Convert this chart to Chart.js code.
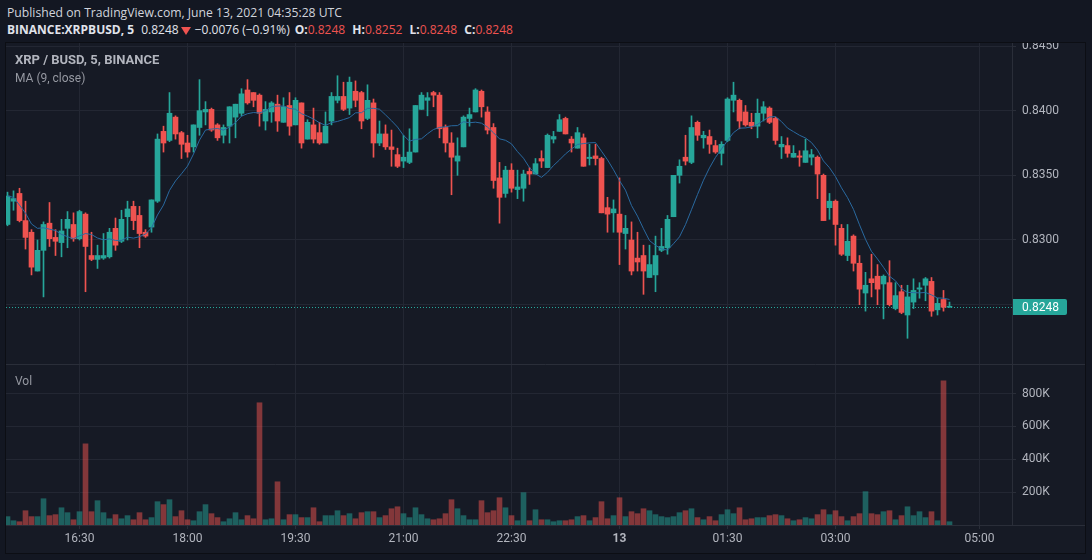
<!DOCTYPE html>
<html lang="en">
<head>
<meta charset="utf-8">
<title>XRPBUSD, 5</title>
<script src="https://cdn.jsdelivr.net/npm/chart.js@4.4.0/dist/chart.umd.min.js"></script>
<style>
  html, body { margin: 0; padding: 0; width: 1092px; height: 560px; overflow: hidden; background: #131722; font-family: Roboto, sans-serif; }
  .head { position: absolute; left: 7px; font-family: 'Open Sans', sans-serif; font-size: 12px; line-height: 16px; color: #d1d4dc; white-space: nowrap; }
  #published { top: 5px; font-size: 12.2px; }
  #symbol { top: 22px; color: #e0e3eb; }
  #symbol b { font-weight: bold; }
  #symbol b.sym { margin-right: 4px; }
  #symbol b.grp { margin-left: 4px; }
  #symbol b.first { margin-left: 5px; }
  .red { color: #ef5350; }
  .tri { display: inline-block; width: 0; height: 0; border-left: 5px solid transparent; border-right: 5px solid transparent; border-top: 8px solid #ef5350; margin: 0 4px 0 2px; vertical-align: -1px; }
  #frame { position: absolute; left: 5px; top: 42px; width: 1079px; height: 510px; border: 1px solid #0c0e14; background: #161a25; }
  #chart { display: block; }
  .legend { position: absolute; left: 15px; color: #9598a1; font-size: 12px; line-height: 14px; white-space: nowrap; }
  #title { top: 53px; font-weight: bold; font-size: 13px; color: #b2b5be; }
  #maLabel { top: 71px; }
  #volLabel { top: 374px; }
</style>
</head>
<body>
<div class="head" id="published">Published on TradingView.com, June 13, 2021 04:35:28 UTC</div>
<div class="head" id="symbol"><b class="sym">BINANCE:XRPBUSD, 5</b> 0.8248<span class="tri"></span>−0.0076 (−0.91%)<b class="first">O:</b><span class="red">0.8248</span> <b class="grp">H:</b><span class="red">0.8252</span> <b class="grp">L:</b><span class="red">0.8248</span> <b class="grp">C:</b><span class="red">0.8248</span></div>
<div id="frame"><canvas id="chart" width="1079" height="510"></canvas></div>
<div class="legend" id="title">XRP / BUSD, 5, BINANCE</div>
<div class="legend" id="maLabel">MA (9, close)</div>
<div class="legend" id="volLabel">Vol</div>

<script>
// --- Date (lumanari de 5 minute, prima la 15:30) ---
const startTime = '15:30';

const opens = [
  0.8312, 0.8330, 0.8336, 0.8315, 0.8306, 0.8276, 0.8292, 0.8313, 0.8302, 0.8298,
  0.8309, 0.8312, 0.8301, 0.8320, 0.8288, 0.8285, 0.8286, 0.8287, 0.8309, 0.8299,
  0.8318, 0.8326, 0.8319, 0.8306, 0.8310, 0.8330, 0.8384, 0.8377, 0.8395, 0.8383,
  0.8375, 0.8372, 0.8387, 0.8399, 0.8401, 0.8389, 0.8381, 0.8388, 0.8395, 0.8398,
  0.8416, 0.8414, 0.8412, 0.8392, 0.8399, 0.8405, 0.8391, 0.8404, 0.8389, 0.8406,
  0.8378, 0.8389, 0.8383, 0.8375, 0.8392, 0.8408, 0.8411, 0.8402, 0.8415, 0.8414,
  0.8394, 0.8406, 0.8375, 0.8382, 0.8372, 0.8366, 0.8361, 0.8360, 0.8368, 0.8401,
  0.8408, 0.8414, 0.8412, 0.8387, 0.8375, 0.8361, 0.8372, 0.8394, 0.8399, 0.8415,
  0.8399, 0.8387, 0.8348, 0.8336, 0.8354, 0.8339, 0.8340, 0.8353, 0.8351, 0.8363,
  0.8356, 0.8378, 0.8384, 0.8394, 0.8378, 0.8371, 0.8379, 0.8363, 0.8365, 0.8363,
  0.8325, 0.8321, 0.8320, 0.8305, 0.8300, 0.8286, 0.8288, 0.8271, 0.8273, 0.8292,
  0.8294, 0.8318, 0.8350, 0.8364, 0.8360, 0.8391, 0.8379, 0.8380, 0.8373, 0.8367,
  0.8377, 0.8408, 0.8408, 0.8399, 0.8391, 0.8388, 0.8398, 0.8402, 0.8394, 0.8372,
  0.8373, 0.8364, 0.8365, 0.8360, 0.8364, 0.8364, 0.8350, 0.8325, 0.8330, 0.8309,
  0.8288, 0.8303, 0.8282, 0.8259, 0.8270, 0.8272, 0.8266, 0.8267, 0.8247, 0.8260,
  0.8242, 0.8252, 0.8262, 0.8265, 0.8268, 0.8246, 0.8254, 0.8248
];
const highs = [
  0.8337, 0.8338, 0.8340, 0.8330, 0.8308, 0.8300, 0.8314, 0.8329, 0.8308, 0.8316,
  0.8322, 0.8321, 0.8323, 0.8321, 0.8306, 0.8296, 0.8305, 0.8309, 0.8317, 0.8323,
  0.8330, 0.8330, 0.8326, 0.8308, 0.8331, 0.8382, 0.8388, 0.8414, 0.8396, 0.8384,
  0.8381, 0.8389, 0.8424, 0.8407, 0.8402, 0.8390, 0.8389, 0.8403, 0.8405, 0.8417,
  0.8424, 0.8414, 0.8413, 0.8407, 0.8407, 0.8412, 0.8410, 0.8414, 0.8410, 0.8406,
  0.8393, 0.8402, 0.8391, 0.8399, 0.8414, 0.8427, 0.8422, 0.8426, 0.8423, 0.8415,
  0.8420, 0.8409, 0.8392, 0.8389, 0.8385, 0.8371, 0.8381, 0.8386, 0.8404, 0.8414,
  0.8414, 0.8415, 0.8414, 0.8389, 0.8383, 0.8379, 0.8396, 0.8402, 0.8417, 0.8416,
  0.8403, 0.8390, 0.8360, 0.8357, 0.8359, 0.8354, 0.8354, 0.8356, 0.8363, 0.8369,
  0.8382, 0.8384, 0.8397, 0.8395, 0.8380, 0.8387, 0.8382, 0.8374, 0.8374, 0.8364,
  0.8333, 0.8331, 0.8348, 0.8319, 0.8314, 0.8306, 0.8296, 0.8296, 0.8303, 0.8309,
  0.8319, 0.8350, 0.8362, 0.8381, 0.8396, 0.8392, 0.8384, 0.8385, 0.8377, 0.8376,
  0.8410, 0.8422, 0.8409, 0.8404, 0.8398, 0.8409, 0.8407, 0.8403, 0.8395, 0.8380,
  0.8379, 0.8373, 0.8369, 0.8378, 0.8370, 0.8365, 0.8351, 0.8336, 0.8331, 0.8312,
  0.8312, 0.8304, 0.8288, 0.8275, 0.8289, 0.8281, 0.8273, 0.8284, 0.8267, 0.8265,
  0.8265, 0.8270, 0.8267, 0.8271, 0.8271, 0.8255, 0.8261, 0.8252
];
const lows = [
  0.8311, 0.8323, 0.8314, 0.8293, 0.8273, 0.8276, 0.8256, 0.8295, 0.8288, 0.8287,
  0.8294, 0.8299, 0.8300, 0.8260, 0.8284, 0.8278, 0.8285, 0.8286, 0.8292, 0.8298,
  0.8300, 0.8308, 0.8294, 0.8302, 0.8306, 0.8329, 0.8368, 0.8376, 0.8378, 0.8363,
  0.8364, 0.8368, 0.8381, 0.8389, 0.8384, 0.8377, 0.8375, 0.8375, 0.8379, 0.8396,
  0.8405, 0.8403, 0.8388, 0.8385, 0.8391, 0.8384, 0.8391, 0.8381, 0.8389, 0.8371,
  0.8378, 0.8375, 0.8374, 0.8375, 0.8389, 0.8406, 0.8400, 0.8397, 0.8403, 0.8386,
  0.8393, 0.8364, 0.8373, 0.8370, 0.8357, 0.8356, 0.8356, 0.8359, 0.8368, 0.8401,
  0.8396, 0.8403, 0.8379, 0.8368, 0.8335, 0.8350, 0.8372, 0.8388, 0.8399, 0.8395,
  0.8382, 0.8340, 0.8313, 0.8333, 0.8337, 0.8332, 0.8330, 0.8343, 0.8351, 0.8356,
  0.8356, 0.8375, 0.8384, 0.8382, 0.8368, 0.8371, 0.8357, 0.8358, 0.8358, 0.8321,
  0.8306, 0.8306, 0.8281, 0.8293, 0.8273, 0.8276, 0.8258, 0.8271, 0.8260, 0.8291,
  0.8289, 0.8318, 0.8344, 0.8358, 0.8359, 0.8377, 0.8371, 0.8367, 0.8367, 0.8358,
  0.8376, 0.8399, 0.8386, 0.8388, 0.8386, 0.8379, 0.8392, 0.8390, 0.8374, 0.8363,
  0.8364, 0.8364, 0.8357, 0.8360, 0.8358, 0.8332, 0.8315, 0.8316, 0.8296, 0.8288,
  0.8284, 0.8276, 0.8250, 0.8245, 0.8256, 0.8250, 0.8239, 0.8249, 0.8246, 0.8243,
  0.8224, 0.8247, 0.8255, 0.8253, 0.8241, 0.8242, 0.8245, 0.8248
];
const closes = [
  0.8334, 0.8332, 0.8315, 0.8302, 0.8279, 0.8292, 0.8312, 0.8301, 0.8299, 0.8307,
  0.8316, 0.8301, 0.8322, 0.8295, 0.8285, 0.8288, 0.8288, 0.8306, 0.8296, 0.8316,
  0.8324, 0.8315, 0.8305, 0.8303, 0.8331, 0.8378, 0.8375, 0.8398, 0.8382, 0.8374,
  0.8368, 0.8389, 0.8400, 0.8401, 0.8385, 0.8379, 0.8387, 0.8403, 0.8405, 0.8413,
  0.8406, 0.8408, 0.8398, 0.8401, 0.8406, 0.8392, 0.8403, 0.8388, 0.8408, 0.8375,
  0.8391, 0.8378, 0.8375, 0.8388, 0.8411, 0.8411, 0.8401, 0.8422, 0.8408, 0.8392,
  0.8408, 0.8375, 0.8382, 0.8372, 0.8370, 0.8357, 0.8364, 0.8368, 0.8404, 0.8412,
  0.8410, 0.8412, 0.8386, 0.8375, 0.8364, 0.8365, 0.8395, 0.8397, 0.8416, 0.8403,
  0.8385, 0.8346, 0.8333, 0.8354, 0.8340, 0.8341, 0.8351, 0.8351, 0.8359, 0.8361,
  0.8381, 0.8380, 0.8393, 0.8382, 0.8375, 0.8383, 0.8357, 0.8364, 0.8363, 0.8321,
  0.8320, 0.8324, 0.8306, 0.8309, 0.8276, 0.8283, 0.8276, 0.8281, 0.8288, 0.8295,
  0.8316, 0.8350, 0.8357, 0.8361, 0.8387, 0.8381, 0.8381, 0.8374, 0.8368, 0.8374,
  0.8409, 0.8412, 0.8392, 0.8389, 0.8388, 0.8398, 0.8403, 0.8391, 0.8377, 0.8374,
  0.8367, 0.8367, 0.8364, 0.8369, 0.8366, 0.8351, 0.8315, 0.8330, 0.8312, 0.8289,
  0.8299, 0.8282, 0.8262, 0.8265, 0.8267, 0.8262, 0.8272, 0.8250, 0.8257, 0.8244,
  0.8256, 0.8261, 0.8263, 0.8270, 0.8245, 0.8251, 0.8248, 0.8248
];
// volum, in mii
const volumes = [
  51, 26, 20, 87, 51, 51, 160, 57, 63, 105,
  75, 32, 81, 494, 81, 148, 75, 38, 63, 38,
  57, 32, 75, 32, 45, 142, 124, 154, 51, 87,
  32, 26, 81, 124, 69, 45, 20, 38, 75, 32,
  57, 38, 744, 32, 38, 263, 32, 63, 63, 45,
  45, 105, 20, 57, 57, 87, 57, 69, 38, 75,
  81, 81, 45, 57, 99, 111, 69, 45, 105, 63,
  38, 32, 38, 69, 154, 99, 57, 32, 32, 148,
  75, 87, 166, 105, 57, 26, 197, 26, 93, 32,
  32, 20, 26, 26, 32, 51, 57, 26, 45, 142,
  38, 57, 166, 51, 81, 69, 99, 87, 63, 51,
  45, 51, 75, 87, 99, 45, 32, 51, 26, 63,
  93, 69, 105, 32, 38, 45, 45, 57, 63, 57,
  38, 26, 32, 45, 38, 63, 93, 63, 87, 51,
  26, 51, 69, 203, 69, 63, 81, 87, 32, 57,
  111, 57, 81, 45, 81, 26, 877, 20
];

const timeTicks = ['16:30', '18:00', '19:30', '21:00', '22:30', '00:00', '01:30', '03:00', '05:00'];
const timeTickLabels = ['16:30', '18:00', '19:30', '21:00', '22:30', '13', '01:30', '03:00', '05:00'];
const priceTicks = [0.8250, 0.8300, 0.8350, 0.8400, 0.8450];
const volumeTicks = [200000, 400000, 600000, 800000];
const lastPrice = 0.8248;
const maPeriod = 9;

// --- Culori ---
const UP = '#26a69a';
const DOWN = '#ef5350';
const UP_VOL = 'rgba(38, 166, 154, 0.5)';
const DOWN_VOL = 'rgba(239, 83, 80, 0.5)';
const GRID = '#232733';
const BORDER = '#2a2e39';
const TEXT = '#b2b5be';

// index lumanare pentru o ora "hh:mm"
function indexOfTime(t) {
    const toMin = s => parseInt(s.slice(0, 2)) * 60 + parseInt(s.slice(3, 5));
    return ((toMin(t) - toMin(startTime) + 1440) % 1440) / 5;
}

const isUp = closes.map((c, i) => c >= opens[i]);
const candleColors = isUp.map(u => u ? UP : DOWN);
const volColors = isUp.map(u => u ? UP_VOL : DOWN_VOL);

// media mobila simpla pe inchideri (MA 9)
const maValues = closes.map((c, i) => {
    const from = Math.max(0, i - maPeriod + 1);
    const slice = closes.slice(from, i + 1);
    return slice.reduce((a, b) => a + b, 0) / slice.length;
});

const tickLabelByIndex = {};
timeTicks.forEach((t, k) => { tickLabelByIndex[indexOfTime(t)] = timeTickLabels[k]; });

// linia pretului curent + eticheta pe axa
const lastPricePlugin = {
    id: 'lastPrice',
    beforeDatasetsDraw(chart) {
        const { ctx, chartArea } = chart;
        const y = Math.round(chart.scales.y.getPixelForValue(lastPrice)) + 0.5;
        ctx.save();
        ctx.strokeStyle = UP;
        ctx.lineWidth = 1;
        ctx.setLineDash([1, 2]);
        ctx.beginPath();
        ctx.moveTo(chartArea.left, y);
        ctx.lineTo(chartArea.right, y);
        ctx.stroke();
        ctx.restore();
    },
    afterDraw(chart) {
        const { ctx, chartArea, width } = chart;
        const yVol = chart.scales.yVol;
        ctx.save();
        // separator intre panouri si marginea axei x
        ctx.strokeStyle = BORDER;
        ctx.lineWidth = 1;
        ctx.beginPath();
        ctx.moveTo(0, Math.round(yVol.top) + 0.5);
        ctx.lineTo(width, Math.round(yVol.top) + 0.5);
        ctx.moveTo(0, Math.round(chartArea.bottom) + 0.5);
        ctx.lineTo(width, Math.round(chartArea.bottom) + 0.5);
        ctx.stroke();

        const y = Math.round(chart.scales.y.getPixelForValue(lastPrice));
        const x = chartArea.right + 1;
        ctx.fillStyle = UP;
        ctx.beginPath();
        ctx.roundRect(x, y - 8, 54, 16, [0, 2, 2, 0]);
        ctx.fill();
        ctx.fillStyle = '#ffffff';
        ctx.font = '12px Roboto';
        ctx.textBaseline = 'middle';
        ctx.fillText(lastPrice.toFixed(4), chartArea.right + 10, y + 0.5);
        ctx.restore();
    }
};

const candleData = closes.map((c, i) => ({ x: i, y: [opens[i], c] }));
const wickData = closes.map((c, i) => ({ x: i, y: [lows[i], highs[i]] }));
const volData = volumes.map((v, i) => ({ x: i, y: v * 1000 }));
const maData = maValues.map((v, i) => ({ x: i, y: v }));

new Chart(document.getElementById('chart'), {
    type: 'bar',
    data: {
        datasets: [
            {
                type: 'line',
                data: maData,
                yAxisID: 'y',
                borderColor: '#2a6aa0',
                borderWidth: 1,
                pointRadius: 0,
                tension: 0,
                order: 0
            },
            {
                data: candleData,
                yAxisID: 'y',
                backgroundColor: candleColors,
                barThickness: 5,
                minBarLength: 1,
                grouped: false,
                order: 1
            },
            {
                data: wickData,
                yAxisID: 'y',
                backgroundColor: candleColors,
                barThickness: 1,
                grouped: false,
                order: 2
            },
            {
                data: volData,
                yAxisID: 'yVol',
                backgroundColor: volColors,
                barThickness: 5,
                grouped: false,
                order: 3
            }
        ]
    },
    options: {
        responsive: false,
        animation: false,
        events: [],
        layout: { padding: 0 },
        plugins: { legend: { display: false }, tooltip: { enabled: false } },
        scales: {
            x: {
                type: 'linear',
                min: -0.25,
                max: 167.4167,
                offset: false,
                grid: { color: GRID, offset: false, tickLength: 4, tickColor: BORDER },
                border: { display: true, color: BORDER },
                afterBuildTicks: scale => {
                    scale.ticks = timeTicks.map(t => ({ value: indexOfTime(t) }));
                },
                afterFit: scale => {
                    scale.height = 28;
                    scale.paddingLeft = 0;
                    scale.paddingRight = 0;
                },
                ticks: {
                    autoSkip: false,
                    maxRotation: 0,
                    padding: 3,
                    color: TEXT,
                    font: ctx => ({
                        family: 'Roboto',
                        size: 12,
                        weight: ctx.tick && ctx.tick.label === '13' ? 'bold' : 'normal'
                    }),
                    callback: value => tickLabelByIndex[value] || ''
                }
            },
            y: {
                type: 'linear',
                position: 'right',
                stack: 'panes',
                stackWeight: 321,
                min: 0.820412,
                max: 0.845232,
                grid: { color: GRID, tickLength: 4, tickColor: BORDER },
                border: { display: true, color: BORDER },
                afterBuildTicks: scale => {
                    scale.ticks = priceTicks.map(v => ({ value: v }));
                },
                afterFit: scale => {
                    scale.width = 73;
                    scale.paddingTop = 0;
                    scale.paddingBottom = 0;
                },
                ticks: {
                    padding: 6,
                    color: TEXT,
                    font: { family: 'Roboto', size: 12 },
                    callback: value => Math.abs(value - lastPrice) < 0.0005 ? '' : value.toFixed(4)
                }
            },
            yVol: {
                type: 'linear',
                position: 'right',
                stack: 'panes',
                stackWeight: 161,
                min: 0,
                max: 980000,
                grid: { color: GRID, tickLength: 4, tickColor: BORDER },
                border: { display: true, color: BORDER },
                afterBuildTicks: scale => {
                    scale.ticks = volumeTicks.map(v => ({ value: v }));
                },
                afterFit: scale => {
                    scale.width = 73;
                    scale.paddingTop = 0;
                    scale.paddingBottom = 0;
                },
                ticks: {
                    padding: 6,
                    color: TEXT,
                    font: { family: 'Roboto', size: 12 },
                    callback: value => (value / 1000) + 'K'
                }
            }
        }
    },
    plugins: [lastPricePlugin]
});
</script>
</body>
</html>
